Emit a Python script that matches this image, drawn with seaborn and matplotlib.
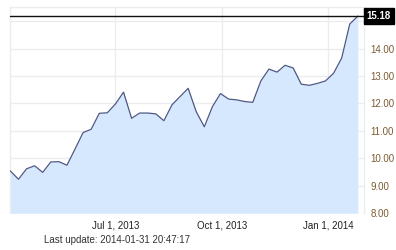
import matplotlib
matplotlib.use("Agg")
import matplotlib.pyplot as plt
import pandas as pd
import seaborn as sns

sns.set_style("white")
plt.rcParams['font.family'] = ['Liberation Sans', 'DejaVu Sans']

dates = ["2013-04-01", "2013-04-08", "2013-04-15", "2013-04-22", "2013-04-29",
         "2013-05-06", "2013-05-13", "2013-05-20", "2013-05-27",
         "2013-06-03", "2013-06-10", "2013-06-17", "2013-06-24",
         "2013-07-01", "2013-07-08", "2013-07-15", "2013-07-22", "2013-07-29",
         "2013-08-05", "2013-08-12", "2013-08-19", "2013-08-26",
         "2013-09-02", "2013-09-09", "2013-09-16", "2013-09-23", "2013-09-30",
         "2013-10-07", "2013-10-14", "2013-10-21", "2013-10-28",
         "2013-11-04", "2013-11-11", "2013-11-18", "2013-11-25",
         "2013-12-02", "2013-12-09", "2013-12-16", "2013-12-23", "2013-12-30",
         "2014-01-06", "2014-01-13", "2014-01-20", "2014-01-27"]
values = [9.54, 9.24, 9.62, 9.73, 9.49, 9.87, 9.88, 9.75, 10.34, 10.94,
          11.06, 11.64, 11.66, 11.98, 12.41, 11.46, 11.65, 11.65, 11.62, 11.37,
          11.95, 12.25, 12.55, 11.70, 11.15, 11.88, 12.36, 12.16, 12.13, 12.07,
          12.04, 12.82, 13.25, 13.14, 13.39, 13.29, 12.70, 12.66, 12.73, 12.82,
          13.10, 13.65, 14.89, 15.18]
last_value = 15.18
y_ticks = [8, 9, 10, 11, 12, 13, 14, 15]
x_tick_dates = ["2013-07-01", "2013-10-01", "2014-01-01"]
x_tick_labels = ["Jul 1, 2013", "Oct 1, 2013", "Jan 1, 2014"]
update_text = "Last update: 2014-01-31 20:47:17"

df = pd.DataFrame({"date": pd.to_datetime(dates), "value": values})

W, H = 396, 250
fig = plt.figure(figsize=(W / 100, H / 100), dpi=100)
left, right, top, bottom = 10.4, 363.6, 7.3, 213.3
ax = fig.add_axes([left / W, 1 - bottom / H, (right - left) / W, (bottom - top) / H])

FS = 7.0
ymin, ymax = 8, 15.5
ax.fill_between(df["date"], df["value"], ymin, color="#d6e8fe", linewidth=0, zorder=1)
sns.lineplot(data=df, x="date", y="value", ax=ax, color="#4f5884", linewidth=0.9, zorder=3)
ax.axhline(last_value, color="#111111", linewidth=1.0, zorder=4, clip_on=False)

ax.set_xlim(pd.Timestamp("2013-04-01"), pd.Timestamp("2014-02-01"))
ax.set_ylim(ymin, ymax)
ax.set_xlabel("")
ax.set_ylabel("")

ax.set_xticks(pd.to_datetime(x_tick_dates))
ax.set_xticklabels(x_tick_labels, fontsize=FS, color="#222222")
ax.yaxis.tick_right()
ax.set_yticks(y_ticks)
ax.set_yticklabels([f"{v:.2f}" if v != 15 else "" for v in y_ticks], fontsize=FS, color="#7a5c33")
ax.tick_params(axis="x", length=0, pad=5)
ax.tick_params(axis="y", length=0, pad=5)

gc = "#ebecf0"
ax.grid(True, color=gc, linewidth=1.0, zorder=0)
ax.set_axisbelow(True)
for s in ["top", "left", "right", "bottom"]:
    ax.spines[s].set_color(gc)
    ax.spines[s].set_linewidth(1.0)
ax.spines["bottom"].set_visible(False)

ax.text(1.008, last_value, f"{last_value:.2f}", transform=ax.get_yaxis_transform(),
        ha="left", va="center", fontsize=FS, fontweight="bold", color="white",
        bbox=dict(boxstyle="square,pad=0.3", facecolor="black", edgecolor="black"),
        zorder=5, clip_on=False)

fig.text(117 / W, 1 - 240 / H, update_text, ha="center", va="center", fontsize=FS, color="#333333")

fig.savefig("out.png", dpi=100)
